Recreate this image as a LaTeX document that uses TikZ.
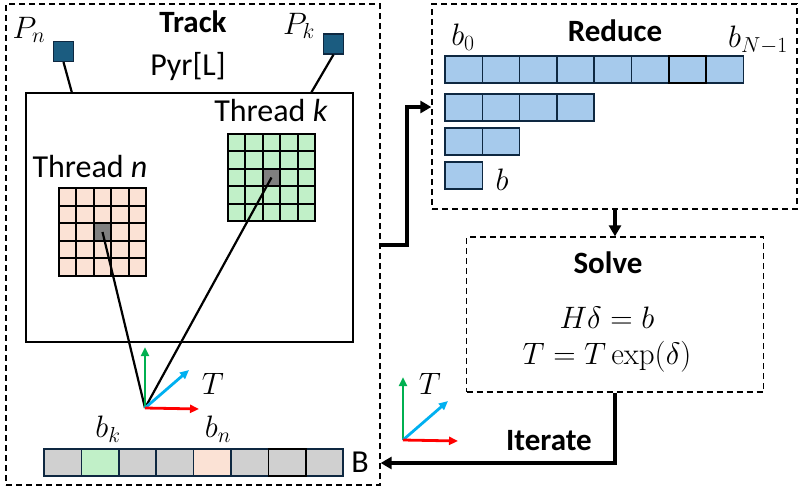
\RequirePackage{fix-cm}
\documentclass[tikz,border=0pt]{standalone}
\usepackage[no-math]{fontspec}
\setmainfont{Carlito}
\usetikzlibrary{arrows.meta,calc}
\definecolor{pinkc}{HTML}{FBE2D5}
\definecolor{greenc}{HTML}{C1F0C8}
\definecolor{grayc}{HTML}{D0D0D0}
\definecolor{darkg}{HTML}{808080}
\definecolor{bluec}{HTML}{A6CAEC}
\definecolor{navyb}{HTML}{0E2841}
\definecolor{teal}{HTML}{1B5C80}
\definecolor{axg}{HTML}{00B050}
\definecolor{axb}{HTML}{00B0F0}
\definecolor{axr}{HTML}{FF0000}
\tikzset{
  dbox/.style={draw=black,line width=1.3pt,dash pattern=on 6pt off 4pt},
  lbl/.style={inner sep=0pt,font=\fontsize{32}{36}\selectfont},
  ttl/.style={inner sep=0pt,font=\fontsize{31}{36}\selectfont\bfseries},
  mth/.style={inner sep=0pt,font=\fontsize{31}{36}\selectfont},
  cellp/.style={draw=black,line width=1.9pt,fill=pinkc},
  cellg/.style={draw=black,line width=1.9pt,fill=greenc},
  graycell/.style={draw=black,line width=1.9pt,fill=darkg,minimum size=17.4pt,inner sep=0pt},
  bcell/.style={draw=navyb,line width=1.6pt},
  rcell/.style={draw=navyb,line width=1.6pt,fill=bluec},
  pt/.style={draw=navyb,line width=1.2pt,fill=teal,minimum size=20pt,inner sep=0pt},
  link/.style={line width=2.2pt},
  axis/.style={line width=2.8pt,-{Triangle[length=9pt,width=8pt]}},
  flow/.style={line width=3.8pt,-{Triangle[length=11pt,width=12pt]}},
}
\begin{document}
\begin{tikzpicture}[x=1pt,y=-1pt]
\useasboundingbox (0,0) rectangle (807,491);
% Track box
\node[dbox,minimum width=374pt,minimum height=481pt,inner sep=0pt] (track) at (193,244.5) {};
\node[ttl] (tracktitle) at (193,22) {Track};
\node[mth] (pnl) at (29,30) {$P_n$};
\node[mth] (pkl) at (299,26) {$P_k$};
\node[lbl] (pyr) at (188,67) {Pyr[L]};
% inner rectangle
\node[draw,line width=2pt,minimum width=327pt,minimum height=249pt,inner sep=0pt] (pyrbox) at (189.5,217.5) {};
\node[pt] (pn) at (63.5,51.5) {};
\node[pt] (pk) at (333.5,44) {};
\draw[link] (pn.south) -- (72,93);
\draw[link] (pk.south) -- (311,93);
% threads
\node[lbl] (thk) at (271,111) {Thread \textit{k}};
\node[lbl] (thn) at (90,167) {Thread \textit{n}};
\foreach \i in {0,...,4}{\foreach \j in {0,...,4}{
  \draw[cellp] ({59+\i*17.4},{188+\j*17.6}) rectangle ++(17.4,17.6);
  \draw[cellg] ({228+\i*17.4},{134+\j*17.4}) rectangle ++(17.4,17.4);
}}
\node[graycell,minimum height=17.6pt] (gn) at (102.5,232) {};
\node[graycell] (gk) at (271.5,177.5) {};
% origin
\coordinate (o) at (145,408);
\draw[link] (gn.center) -- (o);
\draw[link] (gk.center) -- (o);
\coordinate (ou) at (145,347);
\coordinate (od) at (189,370);
\coordinate (or) at (199,409);
\draw[axis,axg] (o) -- (ou);
\draw[axis,axb] (o) -- (od);
\draw[axis,axr] (o) -- (or);
\node[mth] (tl) at (213,384) {$T$};
\node[mth] (bk) at (108,429) {$b_k$};
\node[mth] (bn) at (218,429) {$b_n$};
% B bar
\foreach \c [count=\i from 0] in {grayc,greenc,grayc,grayc,pinkc,grayc,grayc,grayc}{
  \draw[bcell,fill=\c] ({44+\i*37.4},449) rectangle ++(37.4,27);
}
\draw[line width=1.6pt,black] ({44+6*37.4},449) rectangle ++(37.4,27);
\node[lbl] (blab) at (360,462) {B};
% Reduce box
\node[dbox,minimum width=365pt,minimum height=205pt,inner sep=0pt] (reduce) at (614.5,106.5) {};
\node[ttl] (redt) at (615,31) {Reduce};
\node[mth] (b0) at (463,37) {$b_0$};
\node[mth] (bN) at (758,40) {$b_{N-1}$};
\foreach \i in {0,...,7}{\draw[rcell] ({445+\i*37.3},56) rectangle ++(37.3,27);}
\foreach \i in {0,...,3}{\draw[rcell] ({445+\i*37.3},94) rectangle ++(37.3,27);}
\foreach \i in {0,...,1}{\draw[rcell] ({445+\i*37.3},128) rectangle ++(37.3,27);}
\draw[rcell] (445,162) rectangle ++(37.3,27);
\draw[line width=1.6pt,black] ({445+6*37.3},56) rectangle ++(37.3,27);
\node[mth] (bl) at (502,180) {$b$};
% Solve box
\node[dbox,minimum width=297pt,minimum height=155pt,inner sep=0pt] (solve) at (615,314.5) {};
\node[ttl] (solt) at (608,263) {Solve};
\node[mth] (eq1) at (607,318) {$H\delta = b$};
\node[mth] (eq2) at (607,357) {$T = T\exp(\delta)$};
% small axes
\coordinate (o2) at (403,440);
\coordinate (o2u) at (403,377);
\coordinate (o2d) at (448,401);
\coordinate (o2r) at (458,441);
\draw[axis,axg] (o2) -- (o2u);
\draw[axis,axb] (o2) -- (o2d);
\draw[axis,axr] (o2) -- (o2r);
\node[mth] (t2) at (430,384) {$T$};
\node[ttl] (iter) at (549,441) {Iterate};
% flows
\draw[flow] (track.east |- 0,245) -| (407,107) -- (reduce.west |- 0,107);
\draw[flow] (reduce.south -| 615,0) -- (solve.north -| 615,0);
\draw[flow] (solve.south -| 615,0) |- (track.east |- 0,463);
\end{tikzpicture}
\end{document}
